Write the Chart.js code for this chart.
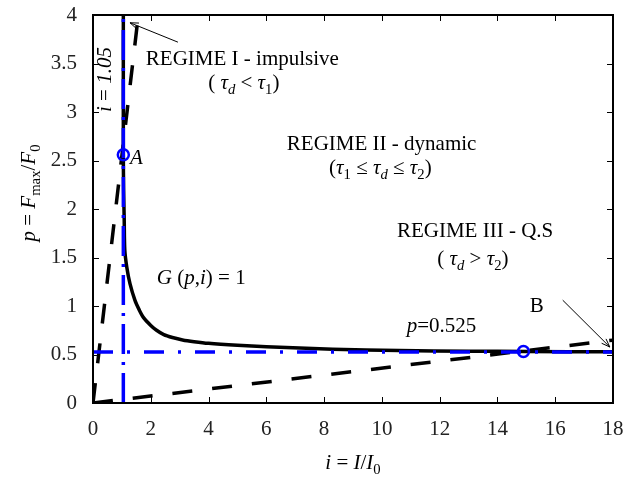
<!DOCTYPE html>
<html>
<head>
<meta charset="utf-8">
<script src="https://cdn.jsdelivr.net/npm/chart.js@4.4.0/dist/chart.umd.min.js"></script>
<style>
  html, body { margin: 0; padding: 0; background: #fff; }
  canvas { display: block; }
</style>
</head>
<body>
<canvas id="piChart" width="624" height="477"></canvas>
<script>
// P-I diagram: G(p,i)=1 curve, its asymptotes and the three loading regimes.

const xTicks = [0, 2, 4, 6, 8, 10, 12, 14, 16, 18];
const yTicks = [0, 0.5, 1, 1.5, 2, 2.5, 3, 3.5, 4];
const yTickLabels = ["0", "0.5", "1", "1.5", "2", "2.5", "3", "3.5", "4"];

// G(p,i) = 1
const curveI = [1.05, 1.05, 1.06, 1.08, 1.10, 1.17, 1.28, 1.45, 1.60, 1.75, 2.0, 2.2, 2.45, 2.75, 3.1, 3.5, 4.0, 5.0, 6.0, 8.3, 10.6, 13.0, 15.0, 18.0];
const curveP = [4.0, 2.56, 2.2, 1.9, 1.58, 1.40, 1.23, 1.06, 0.96, 0.88, 0.80, 0.75, 0.705, 0.675, 0.65, 0.632, 0.615, 0.595, 0.58, 0.555, 0.541, 0.534, 0.531, 0.528];

// asymptotes i = 1.05 and p = 0.525
const asymI_x = [1.05, 1.05];
const asymI_y = [0, 4];
const asymP_x = [0, 18];
const asymP_y = [0.525, 0.525];

// regime boundaries through the origin
const bound1I = [0, 1.57];
const bound1P = [0, 4];
const bound2I = [0, 18];
const bound2P = [0, 0.648];

// points A and B
const markI = [1.05, 14.9];
const markP = [2.56, 0.53];

const FAMILY = '"Liberation Serif", "Times New Roman", serif';
const SIZE = 21;

const xy = (xs, ys) => xs.map((x, k) => ({ x, y: ys[k] }));

// text runs: [text, flags] where flags has "i" for italic, "s" for subscript
const notes = [
  { x: 1.83, y: 3.485, runs: [["REGIME I - impulsive", ""]] },
  { x: 5.22, y: 3.24, align: "center", runs: [["( ", ""], ["τ", "i"], ["d", "is"], [" < ", ""], ["τ", "i"], ["1", "s"], [")", ""]] },
  { x: 6.71, y: 2.61, runs: [["REGIME II - dynamic", ""]] },
  { x: 8.17, y: 2.36, runs: [["(", ""], ["τ", "i"], ["1", "s"], [" ≤ ", ""], ["τ", "i"], ["d", "is"], [" ≤ ", ""], ["τ", "i"], ["2", "s"], [")", ""]] },
  { x: 10.52, y: 1.71, runs: [["REGIME III - Q.S", ""]] },
  { x: 13.15, y: 1.42, align: "center", runs: [["( ", ""], ["τ", "i"], ["d", "is"], [" > ", ""], ["τ", "i"], ["2", "s"], [")", ""]] },
  { x: 2.21, y: 1.23, runs: [["G", "i"], [" (", ""], ["p", "i"], [",", ""], ["i", "i"], [")", ""], [" = 1", ""]] },
  { x: 10.86, y: 0.73, runs: [["p", "i"], ["=0.525", ""]] },
  { x: 15.12, y: 0.94, runs: [["B", ""]] },
  { x: 1.28, y: 2.464, runs: [["A", "i"]] },
  { x: 0.62, y: 3.0, rotate: true, runs: [["i", "i"], [" = ", ""], ["1.05", "i"]] }
];

const arrows = [
  { from: [2.94, 3.72], to: [1.28, 3.92] },
  { from: [16.26, 1.06], to: [17.89, 0.577] }
];

function setFont(ctx, flags) {
  const size = flags.includes("s") ? SIZE * 0.7 : SIZE;
  ctx.font = (flags.includes("i") ? "italic " : "") + size + "px " + FAMILY;
}

function runsWidth(ctx, runs) {
  let w = 0;
  runs.forEach(([t, f]) => { setFont(ctx, f); w += ctx.measureText(t).width; });
  return w;
}

function drawRuns(ctx, runs, x, y) {
  let cx = x;
  runs.forEach(([t, f]) => {
    setFont(ctx, f);
    ctx.fillText(t, cx, y + (f.includes("s") ? 5 : 0));
    cx += ctx.measureText(t).width;
  });
}

const figurePlugin = {
  id: "figure",
  afterDatasetsDraw(chart) {
    const { ctx, chartArea: a, scales } = chart;
    const sx = scales.x, sy = scales.y;
    ctx.save();
    ctx.fillStyle = "#000";
    ctx.textBaseline = "alphabetic";
    ctx.textAlign = "left";

    // inner tick marks on all four sides
    ctx.strokeStyle = "#000";
    ctx.lineWidth = 1;
    ctx.beginPath();
    xTicks.forEach(v => {
      const px = Math.round(sx.getPixelForValue(v)) + 0.5;
      ctx.moveTo(px, a.bottom); ctx.lineTo(px, a.bottom - 6);
      ctx.moveTo(px, a.top); ctx.lineTo(px, a.top + 6);
    });
    yTicks.forEach(v => {
      const py = Math.round(sy.getPixelForValue(v)) + 0.5;
      ctx.moveTo(a.left, py); ctx.lineTo(a.left + 6, py);
      ctx.moveTo(a.right, py); ctx.lineTo(a.right - 6, py);
    });
    ctx.stroke();

    // box
    ctx.lineWidth = 2;
    ctx.strokeRect(a.left, a.top, a.right - a.left, a.bottom - a.top);

    // arrows
    ctx.lineWidth = 1;
    arrows.forEach(ar => {
      const x0 = sx.getPixelForValue(ar.from[0]), y0 = sy.getPixelForValue(ar.from[1]);
      const x1 = sx.getPixelForValue(ar.to[0]), y1 = sy.getPixelForValue(ar.to[1]);
      const ang = Math.atan2(y1 - y0, x1 - x0);
      ctx.beginPath();
      ctx.moveTo(x0, y0); ctx.lineTo(x1, y1);
      ctx.moveTo(x1 - 9 * Math.cos(ang - 0.35), y1 - 9 * Math.sin(ang - 0.35));
      ctx.lineTo(x1, y1);
      ctx.lineTo(x1 - 9 * Math.cos(ang + 0.35), y1 - 9 * Math.sin(ang + 0.35));
      ctx.stroke();
    });

    // annotations
    notes.forEach(n => {
      const px = sx.getPixelForValue(n.x), py = sy.getPixelForValue(n.y);
      if (n.rotate) {
        ctx.save();
        ctx.translate(px, py);
        ctx.rotate(-Math.PI / 2);
        drawRuns(ctx, n.runs, 0, 0);
        ctx.restore();
        return;
      }
      const w = runsWidth(ctx, n.runs);
      drawRuns(ctx, n.runs, n.align === "center" ? px - w / 2 : px, py);
    });

    // axis titles
    const xt = [["i", "i"], [" = ", ""], ["I", "i"], ["/", ""], ["I", "i"], ["0", "s"]];
    const xw = runsWidth(ctx, xt);
    drawRuns(ctx, xt, (a.left + a.right) / 2 - xw / 2, a.bottom + 66);

    const yt = [["p", "i"], [" = ", ""], ["F", "i"], ["max", "s"], ["/", ""], ["F", "i"], ["0", "s"]];
    const yw = runsWidth(ctx, yt);
    ctx.save();
    ctx.translate(35, 193);
    ctx.rotate(-Math.PI / 2);
    drawRuns(ctx, yt, -yw / 2, 0);
    ctx.restore();

    ctx.restore();
  }
};

const tickFont = { family: FAMILY, size: SIZE };

new Chart(document.getElementById("piChart"), {
  type: "scatter",
  data: {
    datasets: [
      {
        label: "A, B",
        data: xy(markI, markP),
        showLine: false,
        pointRadius: 5.5,
        pointBorderWidth: 2.5,
        pointBorderColor: "#0000ff",
        pointBackgroundColor: "rgba(0,0,0,0)",
        order: 0
      },
      {
        label: "i = 1.05",
        data: xy(asymI_x, asymI_y),
        showLine: true,
        pointRadius: 0,
        borderColor: "#0000ff",
        borderWidth: 3.5,
        borderDash: [30, 8, 3, 8],
        order: 1
      },
      {
        label: "p = 0.525",
        data: xy(asymP_x, asymP_y),
        showLine: true,
        pointRadius: 0,
        borderColor: "#0000ff",
        borderWidth: 3.5,
        borderDash: [20, 14, 3, 14],
        order: 1
      },
      {
        label: "tau1",
        data: xy(bound1I, bound1P),
        showLine: true,
        pointRadius: 0,
        borderColor: "#000",
        borderWidth: 3.5,
        borderDash: [20, 20],
        order: 2
      },
      {
        label: "tau2",
        data: xy(bound2I, bound2P),
        showLine: true,
        pointRadius: 0,
        borderColor: "#000",
        borderWidth: 3.5,
        borderDash: [20, 20],
        order: 2
      },
      {
        label: "G(p,i) = 1",
        data: xy(curveI, curveP),
        showLine: true,
        pointRadius: 0,
        borderColor: "#000",
        borderWidth: 3.5,
        tension: 0.3,
        order: 3
      }
    ]
  },
  options: {
    responsive: false,
    animation: false,
    devicePixelRatio: 1,
    layout: { padding: { top: 15, right: 11, left: 0, bottom: 0 } },
    plugins: { legend: { display: false }, tooltip: { enabled: false } },
    scales: {
      x: {
        type: "linear",
        min: 0,
        max: 18,
        afterBuildTicks: s => { s.ticks = xTicks.map(v => ({ value: v })); },
        afterFit: s => { s.height = 74; s.paddingLeft = 0; s.paddingRight = 0; },
        grid: { display: false, drawTicks: false },
        border: { display: false },
        ticks: { padding: 14, color: "#222", font: tickFont, maxRotation: 0, autoSkip: false, callback: v => String(v) }
      },
      y: {
        type: "linear",
        min: 0,
        max: 4,
        afterBuildTicks: s => { s.ticks = yTicks.map(v => ({ value: v })); },
        afterFit: s => { s.width = 93; s.paddingTop = 0; s.paddingBottom = 0; },
        grid: { display: false, drawTicks: false },
        border: { display: false },
        ticks: { padding: 16, color: "#222", font: tickFont, autoSkip: false, callback: (v, k) => yTickLabels[k] }
      }
    }
  },
  plugins: [figurePlugin]
});
</script>
</body>
</html>
